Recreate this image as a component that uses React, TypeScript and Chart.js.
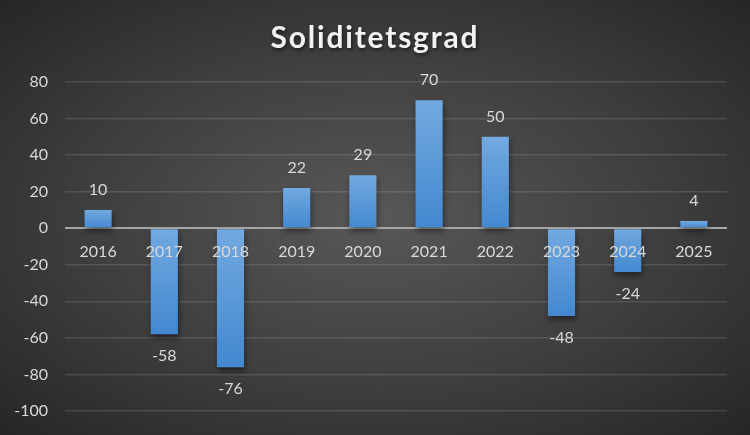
import React, { useEffect, useRef } from "react";
import { Chart, registerables } from "chart.js";

Chart.register(...registerables);

const TITLE = "Soliditetsgrad";
const categories = ["2016", "2017", "2018", "2019", "2020", "2021", "2022", "2023", "2024", "2025"];
const values = [10, -58, -76, 22, 29, 70, 50, -48, -24, 4];
const yMin = -100;
const yMax = 80;
const yStep = 20;

const FONT = "Lato, 'Open Sans', sans-serif";
const TEXT = "#d9d9d9";

export default function App() {
  const ref = useRef<HTMLCanvasElement | null>(null);

  useEffect(() => {
    if (!ref.current) return;

    const titlePlugin = {
      id: "customTitle",
      afterDraw(chart: any) {
        const ctx = chart.ctx;
        ctx.save();
        ctx.font = `bold 30px ${FONT}`;
        (ctx as any).letterSpacing = "1.8px";
        ctx.fillStyle = "#f2f2f2";
        ctx.textAlign = "center";
        ctx.textBaseline = "middle";
        ctx.shadowColor = "rgba(0,0,0,0.6)";
        ctx.shadowBlur = 4;
        ctx.shadowOffsetX = 1;
        ctx.shadowOffsetY = 2;
        ctx.fillText(TITLE, chart.width / 2, 38);
        ctx.restore();
      },
    };

    const shadowPlugin = {
      id: "barShadow",
      beforeDatasetDraw(chart: any) {
        const ctx = chart.ctx;
        ctx.save();
        ctx.shadowColor = "rgba(0,0,0,0.45)";
        ctx.shadowBlur = 6;
        ctx.shadowOffsetX = 1;
        ctx.shadowOffsetY = 4;
      },
      afterDatasetDraw(chart: any) {
        chart.ctx.restore();
      },
    };

    const labelPlugin = {
      id: "labels",
      afterDatasetsDraw(chart: any) {
        const ctx = chart.ctx;
        const meta = chart.getDatasetMeta(0);
        const zero = chart.scales.y.getPixelForValue(0);
        ctx.save();
        ctx.font = `16px ${FONT}`;
        ctx.fillStyle = TEXT;
        ctx.textAlign = "center";
        ctx.textBaseline = "middle";
        meta.data.forEach((bar: any, i: number) => {
          const v = values[i];
          const y = v >= 0 ? bar.y - 20 : bar.y + 22;
          ctx.fillText(String(v), bar.x, y);
          ctx.fillText(categories[i], bar.x, zero + 24);
        });
        ctx.restore();
      },
    };

    const chart = new Chart(ref.current, {
      type: "bar",
      data: {
        labels: categories,
        datasets: [
          {
            data: values,
            barPercentage: 0.41,
            categoryPercentage: 1,
            borderWidth: 0,
            backgroundColor: (c: any) => {
              const ch = c.chart;
              if (!ch.chartArea) return "#5b9bd5";
              const ys = ch.scales.y;
              const v = c.raw as number;
              const top = ys.getPixelForValue(Math.max(v, 0));
              const bot = ys.getPixelForValue(Math.min(v, 0));
              if (!isFinite(top) || !isFinite(bot) || top === bot) return "#5b9bd5";
              const g = ch.ctx.createLinearGradient(0, top, 0, bot);
              g.addColorStop(0, "#72a9e0");
              g.addColorStop(1, "#4388d0");
              return g;
            },
          },
        ],
      },
      options: {
        responsive: false,
        animation: false,
        layout: { padding: { top: 82, right: 23, bottom: 24, left: 0 } },
        plugins: {
          legend: { display: false },
          title: { display: false },
          tooltip: { enabled: false },
        },
        scales: {
          x: { display: false },
          y: {
            min: yMin,
            max: yMax,
            afterFit: (s: any) => {
              s.width = 65;
              s.paddingTop = 0;
              s.paddingBottom = 0;
            },
            ticks: {
              stepSize: yStep,
              color: TEXT,
              font: { family: FONT, size: 16 },
              padding: 17,
            },
            border: { display: false },
            grid: {
              drawTicks: false,
              color: (c: any) => (c.tick && c.tick.value === 0 ? "#a6a6a6" : "rgba(255,255,255,0.12)"),
              lineWidth: (c: any) => (c.tick && c.tick.value === 0 ? 2 : 1.6),
            },
          },
        },
      },
      plugins: [titlePlugin, shadowPlugin, labelPlugin],
    });

    return () => chart.destroy();
  }, []);

  return (
    <div
      style={{
        position: "absolute",
        left: 0,
        top: 0,
        width: 750,
        height: 435,
        background: "radial-gradient(ellipse at 50% 50%, #585858 0%, #3e3e3e 55%, #262626 100%)",
      }}
    >
      <canvas ref={ref} width={750} height={435} />
    </div>
  );
}
